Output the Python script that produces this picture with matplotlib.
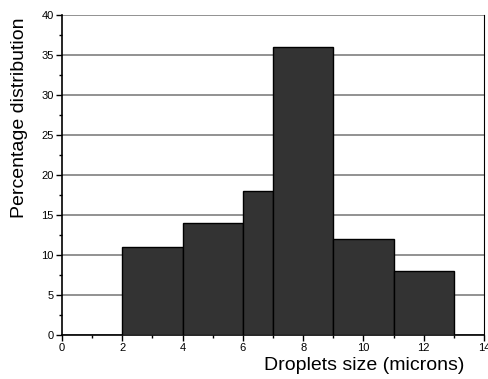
import matplotlib.pyplot as plt
from matplotlib.ticker import MultipleLocator

plt.rcParams['font.family'] = ['Liberation Sans', 'DejaVu Sans']

# histogram bins (left edges, widths) and percentages
bin_left = [2, 4, 6, 7, 9, 11]
bin_width = [2, 2, 1, 2, 2, 2]
percent = [11, 14, 18, 36, 12, 8]

fig = plt.figure(figsize=(4.88, 3.79), dpi=100)
ax = fig.add_axes([62/488, 1-335/379, 422/488, 320/379])

ax.bar(bin_left, percent, width=bin_width, align='edge',
       color='#333333', edgecolor='black', linewidth=1, zorder=3)

ax.set_xlim(0, 14)
ax.set_ylim(0, 40)
ax.xaxis.set_major_locator(MultipleLocator(2))
ax.xaxis.set_minor_locator(MultipleLocator(1))
ax.yaxis.set_major_locator(MultipleLocator(5))
ax.yaxis.set_minor_locator(MultipleLocator(2.5))
ax.yaxis.grid(True, color='#7f7f7f', linewidth=1.2, zorder=0)
ax.set_axisbelow(True)

ax.spines['top'].set_visible(False)
ax.spines['right'].set_linewidth(0.8)
ax.spines['left'].set_linewidth(1.2)
ax.spines['bottom'].set_linewidth(1.2)
ax.tick_params(which='major', direction='out', length=4, width=1, labelsize=8, pad=2)
ax.tick_params(which='minor', direction='out', length=2.5, width=1)

ax.set_xlabel('Droplets size (microns)', fontsize=14)
ax.set_ylabel('Percentage distribution', fontsize=14)
ax.xaxis.set_label_coords(0.717, -0.07)
ax.yaxis.set_label_coords(-0.08, 0.68)

fig.savefig('out.png', dpi=100)
